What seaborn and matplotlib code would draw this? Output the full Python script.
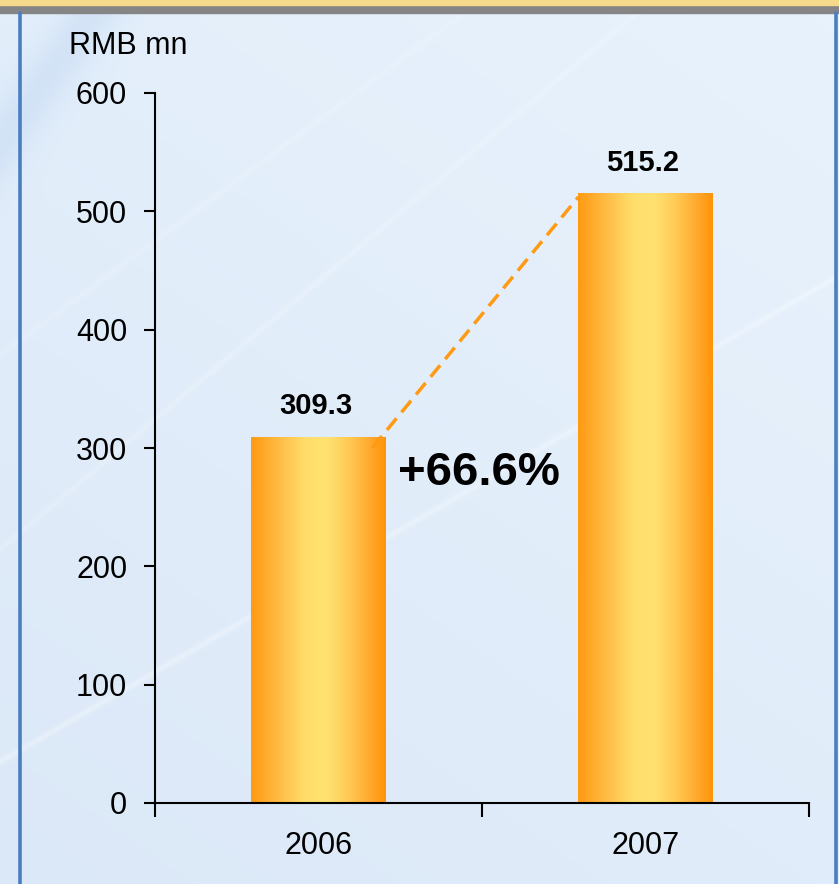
import numpy as np
import pandas as pd
import seaborn as sns
import matplotlib.pyplot as plt
from matplotlib.colors import LinearSegmentedColormap
from matplotlib.patches import Rectangle

# data
years = ['2006', '2007']
revenue = [309.3, 515.2]
value_labels = ['309.3', '515.2']
growth_label = '+66.6%'
y_ticks = [0, 100, 200, 300, 400, 500, 600]
unit_label = 'RMB mn'

df = pd.DataFrame({'year': years, 'revenue': revenue})

sns.set_theme(style='white')
plt.rcParams['font.family'] = ['Liberation Sans', 'DejaVu Sans']
plt.rcParams['text.color'] = 'black'
plt.rcParams['xtick.color'] = 'black'
plt.rcParams['ytick.color'] = 'black'

fig = plt.figure(figsize=(8.39, 8.84), dpi=100)

# background panel: light blue gradient with soft diagonal streaks
bg = fig.add_axes([0, 0, 1, 1], zorder=0)
h, w = 442, 420
yy, xx = np.mgrid[0:h, 0:w]
yy = yy / h
xx = xx / w
c_top = np.array([0.91, 0.95, 0.99])
c_bot = np.array([0.86, 0.91, 0.97])
t = (0.6 * yy + 0.4 * (1 - xx))[..., None]
img = c_top * (1 - t) + c_bot * t
# darker band top-left
d = xx * 1.0 + yy * 0.75
band = np.exp(-((d - 0.12) / 0.04) ** 2) * (yy < 0.35)
img = img - band[..., None] * np.array([0.06, 0.04, 0.015])
# faint white streaks
for off, slope, a in [(0.86, 0.55, 0.3), (0.62, 0.8, 0.2), (0.40, 0.7, 0.15)]:
    s = np.abs(yy - (off - slope * xx))
    img = img + (np.exp(-(s / 0.004) ** 2) * a)[..., None] * (1 - img)
img = np.clip(img, 0, 1)
bg.imshow(img, extent=[0, 1, 0, 1], aspect='auto', origin='upper')
bg.set_xlim(0, 1)
bg.set_ylim(0, 1)
bg.axis('off')

# frame: blue side borders, gold top bar with grey shadow
bg.add_patch(Rectangle((0, 1 - 13 / 884), 1, 13 / 884, color='#858585', zorder=2))
bg.add_patch(Rectangle((0, 1 - 5 / 884), 1, 5 / 884, color='#f7d98c', zorder=3))
bg.plot([19.5 / 839, 19.5 / 839], [0, 1 - 13 / 884], color='#4a7ebf', lw=2.6, zorder=3)
bg.plot([835.5 / 839, 835.5 / 839], [0, 1 - 13 / 884], color='#4a7ebf', lw=2.6, zorder=3)

# main chart
ax = fig.add_axes([155 / 839, 81 / 884, 654 / 839, 710 / 884], zorder=1)
ax.patch.set_alpha(0)
bar_w = 0.41
sns.barplot(data=df, x='year', y='revenue', width=bar_w, color='#ffb030',
            saturation=1, ax=ax)

bar_cmap = LinearSegmentedColormap.from_list('bar', [
    (0.0, '#ff9a12'), (0.22, '#ffbe48'), (0.40, '#ffdd6a'), (0.56, '#ffe272'),
    (0.72, '#ffcb55'), (0.88, '#ffa92e'), (1.0, '#ff9408')])
grad = np.linspace(0, 1, 256)[None, :]
for p in ax.patches:
    x0, y0 = p.get_x(), p.get_y()
    im = ax.imshow(grad, cmap=bar_cmap, aspect='auto', zorder=2,
                   extent=[x0, x0 + p.get_width(), y0, y0 + p.get_height()])
    im.set_clip_path(p)
    p.set_edgecolor('none')

ax.set_xlim(-0.5, 1.5)
ax.set_ylim(0, 600)
ax.set_yticks(y_ticks)
ax.set_xticks(range(len(years)))
ax.set_xticklabels(years)
ax.set_xticks([-0.5, 0.5, 1.5], minor=True)
ax.set_xlabel('')
ax.set_ylabel('')
for s in ['top', 'right']:
    ax.spines[s].set_visible(False)
for s in ['left', 'bottom']:
    ax.spines[s].set_color('black')
    ax.spines[s].set_linewidth(1.5)
ax.tick_params(axis='y', direction='out', length=8, width=1.5, color='black',
               labelcolor='black', labelsize=22, pad=12, left=True)
ax.tick_params(axis='x', which='major', length=0, labelsize=22, pad=20,
               labelcolor='black')
ax.tick_params(axis='x', which='minor', direction='out', length=10, width=1.5,
               color='black', bottom=True)

# value labels
for i, (v, lab) in enumerate(zip(revenue, value_labels)):
    ax.annotate(lab, (i, v), xytext=(-2, 12), textcoords='offset points',
                ha='center', va='bottom', fontsize=21, fontweight='bold',
                color='black')

# growth connector
ax.plot([bar_w / 2 - 0.04, 1 - bar_w / 2], [revenue[0] - 9, revenue[1] - 3],
        color='#ff9a12', lw=2.5, dashes=(4.3, 2.3), zorder=3)
ax.text(0.49, 279, growth_label, ha='center', va='center', fontsize=34,
        fontweight='bold', color='black')

fig.text(69 / 839, 1 - 46 / 884, unit_label, ha='left', va='center',
         fontsize=22, color='black')

fig.savefig('out.png', dpi=100)
